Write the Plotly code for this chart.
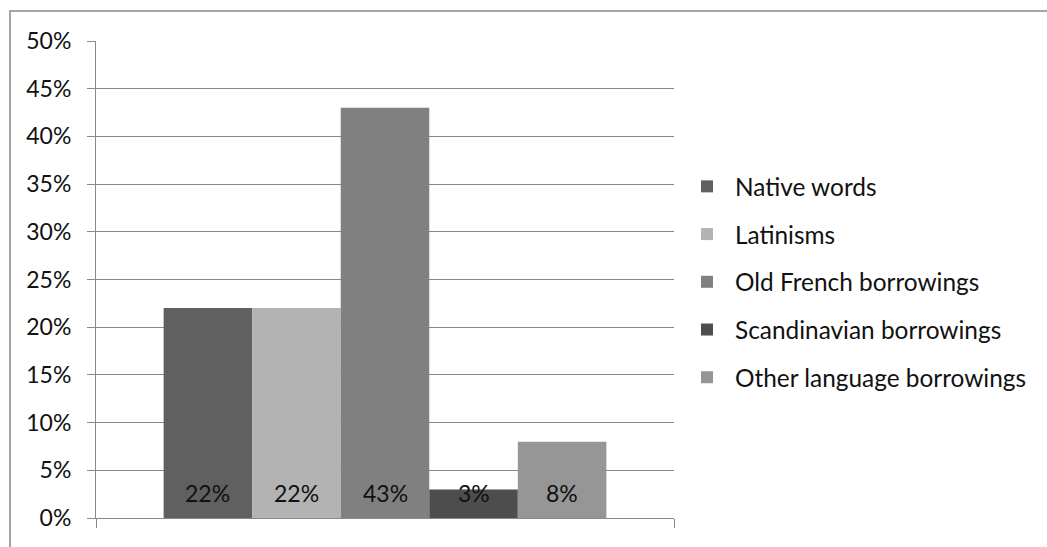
import plotly.graph_objects as go

series = ["Native words", "Latinisms", "Old French borrowings",
          "Scandinavian borrowings", "Other language borrowings"]
values = [0.22, 0.22, 0.43, 0.03, 0.08]
labels = ["22%", "22%", "43%", "3%", "8%"]
colors = ["#606060", "#b3b3b3", "#808080", "#4d4d4d", "#969696"]
ytickvals = [0, 0.05, 0.10, 0.15, 0.20, 0.25, 0.30, 0.35, 0.40, 0.45, 0.50]
yticktext = ["0%", "5%", "10%", "15%", "20%", "25%", "30%", "35%", "40%", "45%", "50%"]

FONT = "Lato"
BARGAP = 0.234
fig = go.Figure()
for name, v, c in zip(series, values, colors):
    fig.add_trace(go.Bar(
        x=[0], y=[v], name=name, marker=dict(color=c, line=dict(width=0)),
        legendgroup=name, hoverinfo="skip",
    ))

# value labels near bar bases, positioned via the x axis scale
n = len(series)
bw = (1 - BARGAP) / n
annotations = []
for i, lab in enumerate(labels):
    annotations.append(dict(
        x=-(1 - BARGAP) / 2 + (i + 0.5) * bw, y=0, xref="x", yref="y",
        text=lab, showarrow=False, yanchor="middle", yshift=25,
        font=dict(family=FONT, size=23, color="#111111"),
    ))

W, H = 1047, 547
L, R, T, B = 96, 373, 41, 29
pw, ph = W - L - R, H - T - B

fig.update_layout(
    width=W, height=H,
    margin=dict(l=L, r=R, t=T, b=B),
    paper_bgcolor="white", plot_bgcolor="white",
    barmode="group", bargap=BARGAP, bargroupgap=0,
    font=dict(family=FONT, size=23, color="#111111"),
    showlegend=True,
    legend=dict(x=(679 - L) / pw, xanchor="left", y=(518 - 282) / ph, yanchor="middle",
                traceorder="grouped", tracegroupgap=13,
                font=dict(family=FONT, size=24.4, color="#111111"),
                itemwidth=46, bgcolor="rgba(0,0,0,0)"),
    annotations=annotations,
    xaxis=dict(range=[-0.5, 0.5], tickvals=[-0.5, 0.5], showticklabels=False,
               ticks="outside", ticklen=9, tickcolor="#888888", tickwidth=1,
               showgrid=False, zeroline=False, showline=True, linecolor="#888888", linewidth=1),
    yaxis=dict(range=[0, 0.5], tickvals=ytickvals, ticktext=yticktext,
               ticks="outside", ticklen=8, tickcolor="#888888", tickwidth=1,
               ticklabelstandoff=11,
               showgrid=True, gridcolor="#888888", gridwidth=1,
               zeroline=False, showline=True, linecolor="#888888", linewidth=1,
               tickfont=dict(family=FONT, size=23, color="#111111")),
    shapes=[dict(type="rect", xref="paper", yref="paper",
                 x0=(10 - L) / pw, x1=(W + 20 - L) / pw,
                 y0=(518 - (H + 20)) / ph, y1=(518 - 11) / ph,
                 line=dict(color="#888888", width=1.5), fillcolor="rgba(0,0,0,0)", layer="below")],
)
fig.write_html("out.html")
